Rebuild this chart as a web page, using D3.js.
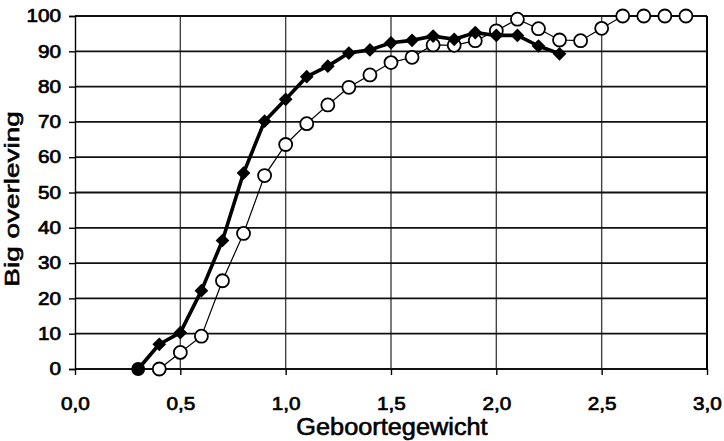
<!DOCTYPE html>
<html>
<head>
<meta charset="utf-8">
<script src="https://cdn.jsdelivr.net/npm/d3@7/dist/d3.min.js"></script>
<style>
  body { margin: 0; background: #fff; }
  text { font-family: "Liberation Sans", Arial, sans-serif; fill: #000; }
</style>
</head>
<body>
<svg id="chart" width="724" height="441"></svg>
<script>
// geboortegewicht (kg) en overleving (%) per reeks
const weightsDiamond = [0.3, 0.4, 0.5, 0.6, 0.7, 0.8, 0.9, 1.0, 1.1, 1.2, 1.3, 1.4, 1.5, 1.6, 1.7, 1.8, 1.9, 2.0, 2.1, 2.2, 2.3]
const survivalDiamond = [0, 7, 10.3, 22.2, 36.4, 55.5, 70.2, 76.4, 82.8, 85.8, 89.5, 90.4, 92.4, 93.1, 94.3, 93.4, 95.3, 94.5, 94.5, 91.5, 89.3]
const weightsCircle = [0.4, 0.5, 0.6, 0.7, 0.8, 0.9, 1.0, 1.1, 1.2, 1.3, 1.4, 1.5, 1.6, 1.7, 1.8, 1.9, 2.0, 2.1, 2.2, 2.3, 2.4, 2.5, 2.6, 2.7, 2.8, 2.9]
const survivalCircle = [0, 4.7, 9.3, 25, 38.4, 54.8, 63.6, 69.5, 74.8, 79.8, 83.3, 86.8, 88.3, 91.8, 91.7, 93, 95.8, 99.1, 96.4, 93.2, 93, 96.5, 100, 100, 100, 100]
const xTicks = [0, 0.5, 1.0, 1.5, 2.0, 2.5, 3.0]
const yTicks = [0, 10, 20, 30, 40, 50, 60, 70, 80, 90, 100]
const xTitle = 'Geboortegewicht'
const yTitle = 'Big overleving'

const svg = d3.select('#chart')
const x = d3.scaleLinear().domain([0, 3]).range([75, 707])
const y = d3.scaleLinear().domain([0, 100]).range([369, 16])
const fmt = d => d3.format('.1f')(d).replace('.', ',')

// tekst iets breder trekken, zoals in het origineel
const stretch = (sel, f) => sel.each(function () {
  const w = this.getComputedTextLength()
  d3.select(this).attr('textLength', w * f).attr('lengthAdjust', 'spacingAndGlyphs')
})

// rasterlijnen
svg.append('g').selectAll('line').data(xTicks.slice(1, -1)).join('line')
  .attr('x1', d => x(d)).attr('x2', d => x(d))
  .attr('y1', y(100)).attr('y2', y(0))
  .attr('stroke', '#444').attr('stroke-width', 1.4)
svg.append('g').selectAll('line').data(yTicks).join('line')
  .attr('x1', x(0)).attr('x2', x(3))
  .attr('y1', d => y(d)).attr('y2', d => y(d))
  .attr('stroke', '#111').attr('stroke-width', 1.8)
svg.append('line') // rechterrand
  .attr('x1', x(3)).attr('x2', x(3)).attr('y1', y(100)).attr('y2', y(0))
  .attr('stroke', '#000').attr('stroke-width', 2)

// assen
const xAxis = svg.append('g').attr('transform', `translate(0,${y(0)})`)
  .call(d3.axisBottom(x).tickValues(xTicks).tickFormat(fmt).tickSize(6).tickPadding(22))
const yAxis = svg.append('g').attr('transform', `translate(${x(0)},0)`)
  .call(d3.axisLeft(y).tickValues(yTicks).tickSize(6).tickPadding(8))
for (const ax of [xAxis, yAxis]) {
  ax.select('.domain').attr('stroke', '#000').attr('stroke-width', 1.4)
  ax.selectAll('.tick line').attr('stroke', '#000').attr('stroke-width', 1.4)
  ax.selectAll('.tick text').attr('font-size', 18).attr('fill', '#000')
    .attr('stroke', '#000').attr('stroke-width', 0.7)
    .call(stretch, 1.15)
}
xAxis.select('.domain').remove()

// astitels
svg.append('text').text(xTitle)
  .attr('x', 392).attr('y', 435).attr('text-anchor', 'middle')
  .attr('font-size', 23).attr('stroke', '#000').attr('stroke-width', 0.6)
  .call(stretch, 1.1)
svg.append('text').text(yTitle)
  .attr('transform', 'translate(19,199) rotate(-90)').attr('text-anchor', 'middle')
  .attr('font-size', 21).attr('stroke', '#000').attr('stroke-width', 0.6)
  .call(stretch, 1.33)

// reeks met open cirkels
const circleData = weightsCircle.map((w, i) => [w, survivalCircle[i]])
const diamondData = weightsDiamond.map((w, i) => [w, survivalDiamond[i]])
const line = d3.line().x(d => x(d[0])).y(d => y(d[1]))

svg.append('path').datum(circleData).attr('d', line)
  .attr('fill', 'none').attr('stroke', '#000').attr('stroke-width', 1.2)
svg.append('g').selectAll('circle').data(circleData).join('circle')
  .attr('cx', d => x(d[0])).attr('cy', d => y(d[1])).attr('r', 6.5)
  .attr('fill', '#fff').attr('stroke', '#000').attr('stroke-width', 1.8)

// reeks met gevulde ruiten; eerste punt als volle stip
svg.append('path').datum(diamondData).attr('d', line)
  .attr('fill', 'none').attr('stroke', '#000').attr('stroke-width', 3.6)
  .attr('stroke-linejoin', 'round')
svg.append('g').selectAll('path').data(diamondData).join('path')
  .attr('d', (d, i) => d3.symbol(i === 0 ? d3.symbolCircle : d3.symbolDiamond2, i === 0 ? 150 : 120)())
  .attr('transform', d => `translate(${x(d[0])},${y(d[1])})`)
  .attr('fill', '#000')
</script>
</body>
</html>
